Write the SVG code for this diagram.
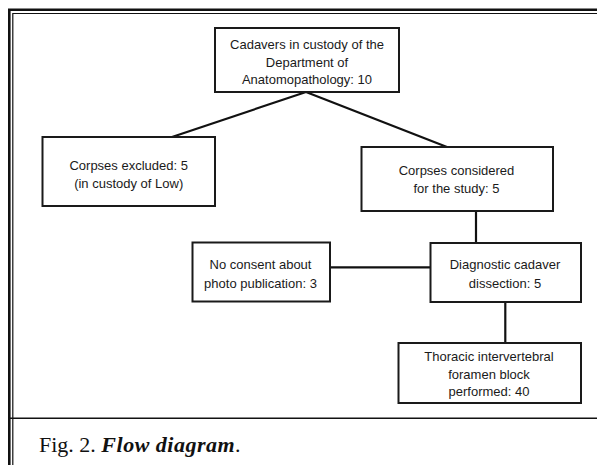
<svg xmlns="http://www.w3.org/2000/svg" width="597" height="465" viewBox="0 0 597 465">
<style>
.box{fill:#fff;stroke:#1a1a1a;stroke-width:2}
.t{font-family:"Liberation Sans",Arial,sans-serif;font-size:13px;fill:#1a1a1a;text-anchor:middle}
.c{stroke:#111;stroke-width:2.2;fill:none}
.frame{stroke:#111;fill:none}
</style>
<rect width="597" height="465" fill="#fff"/>
<g id="frame">
<path class="frame" d="M9.3 465V9.8H597" stroke-width="2.6"/>
<path class="frame" d="M12.8 465V13.5H597" stroke-width="1.2" stroke="#555"/>
<path class="frame" d="M8 418.3H597" stroke-width="1.6"/>
</g>
<g id="connectors">
<path class="c" d="M306 92L172 137"/>
<path class="c" d="M306 92L447 147"/>
<path class="c" d="M476 211V243"/>
<path class="c" d="M330 267.3H430"/>
<path class="c" d="M505.3 302V343"/>
</g>
<g id="n1">
<rect class="box" x="215" y="28" width="184" height="64"/>
<text class="t" x="307" y="48.5">Cadavers in custody of the</text>
<text class="t" x="307" y="66.5">Department of</text>
<text class="t" x="307" y="84">Anatomopathology: 10</text>
</g>
<g id="n2">
<rect class="box" x="42.5" y="137" width="172.5" height="69"/>
<text class="t" x="128.7" y="169.5">Corpses excluded: 5</text>
<text class="t" x="128.7" y="187.5">(in custody of Low)</text>
</g>
<g id="n3">
<rect class="box" x="361.5" y="147" width="191.5" height="64"/>
<text class="t" x="456.5" y="175">Corpses considered</text>
<text class="t" x="456.5" y="193">for the study: 5</text>
</g>
<g id="n4">
<rect class="box" x="430.5" y="243" width="150.5" height="59"/>
<text class="t" x="505" y="269">Diagnostic cadaver</text>
<text class="t" x="505" y="287.5">dissection: 5</text>
</g>
<g id="n5">
<rect class="box" x="192.5" y="242.5" width="137.5" height="59"/>
<text class="t" x="260.5" y="269">No consent about</text>
<text class="t" x="260.5" y="288">photo publication: 3</text>
</g>
<g id="n6">
<rect class="box" x="398.5" y="343" width="182.5" height="60"/>
<text class="t" x="489" y="360.5">Thoracic intervertebral</text>
<text class="t" x="489" y="378.5">foramen block</text>
<text class="t" x="489" y="396">performed: 40</text>
</g>
<text x="39" y="452" font-family="'Liberation Serif','Times New Roman',serif" font-size="22" fill="#111">Fig. 2. <tspan font-style="italic" font-weight="bold" letter-spacing="0.5">Flow diagram</tspan>.</text>
</svg>
